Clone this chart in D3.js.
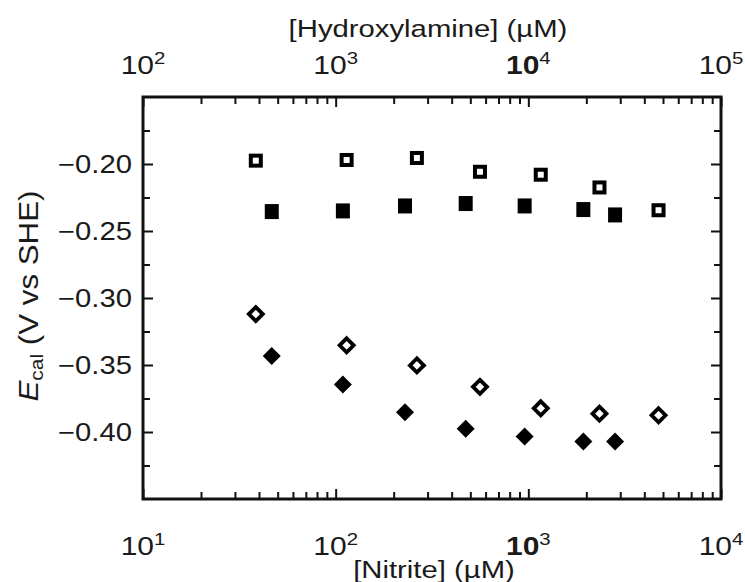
<!DOCTYPE html>
<html>
<head>
<meta charset="utf-8">
<style>
  body { margin: 0; background: #fff; }
  text { font-family: "Liberation Sans", Arial, sans-serif; fill: #1a1a1a; }
</style>
</head>
<body>
<svg id="chart" width="745" height="582"></svg>
<script src="https://cdnjs.cloudflare.com/ajax/libs/d3/7.8.5/d3.min.js"></script>
<script>
// concentrations (uM): filled markers on the nitrite axis, open markers on the hydroxylamine axis
var nitriteConc = [46.6, 109, 229, 473, 957, 1930, 2820];
var hydroxylamineConc = [385, 1140, 2640, 5610, 11600, 23400, 47400];

// E_cal (V vs SHE)
var filledSquareE  = [-0.2355, -0.235, -0.2313, -0.2295, -0.2313, -0.234, -0.238];
var openSquareE    = [-0.1975, -0.197, -0.1955, -0.2058, -0.208, -0.2175, -0.2345];
var filledDiamondE = [-0.3433, -0.3645, -0.3853, -0.3975, -0.4033, -0.407, -0.407];
var openDiamondE   = [-0.312, -0.3353, -0.3503, -0.3663, -0.3823, -0.3863, -0.3875];

var yTicks = [-0.20, -0.25, -0.30, -0.35, -0.40];
var yMinor = [-0.175, -0.225, -0.275, -0.325, -0.375, -0.425];
var bottomDecades = [10, 100, 1000, 10000];
var topDecades = [100, 1000, 10000, 100000];

var svg = d3.select("#chart");
var pLeft = 143, pRight = 721, pTop = 97, pBottom = 499;

var xBot = d3.scaleLog().domain([10, 1e4]).range([pLeft, pRight]);
var xTop = d3.scaleLog().domain([100, 1e5]).range([pLeft, pRight]);
var y = d3.scaleLinear().domain([-0.45, -0.15]).range([pBottom, pTop]);

function minorsOf(decades) {
  var out = [];
  decades.slice(0, -1).forEach(function(d) {
    for (var m = 2; m <= 9; m++) out.push(d * m);
  });
  return out;
}

function drawTicks(axis, values, size, transform) {
  var g = svg.append("g").attr("transform", transform)
    .call(axis.tickValues(values).tickSize(size).tickFormat(""));
  g.select(".domain").remove();
  g.selectAll(".tick line").attr("stroke", "#111").attr("stroke-width", 2);
  g.selectAll(".tick text").remove();
}

// ticks point inward on all four sides
drawTicks(d3.axisBottom(xBot), bottomDecades, -10, "translate(0," + pBottom + ")");
drawTicks(d3.axisBottom(xBot), minorsOf(bottomDecades), -7, "translate(0," + pBottom + ")");
drawTicks(d3.axisTop(xTop), topDecades, -10, "translate(0," + pTop + ")");
drawTicks(d3.axisTop(xTop), minorsOf(topDecades), -7, "translate(0," + pTop + ")");
drawTicks(d3.axisLeft(y), yTicks, -10, "translate(" + pLeft + ",0)");
drawTicks(d3.axisLeft(y), yMinor, -7, "translate(" + pLeft + ",0)");
drawTicks(d3.axisRight(y), yTicks, -10, "translate(" + pRight + ",0)");
drawTicks(d3.axisRight(y), yMinor, -7, "translate(" + pRight + ",0)");

// frame
svg.append("rect")
  .attr("x", pLeft).attr("y", pTop)
  .attr("width", pRight - pLeft).attr("height", pBottom - pTop)
  .attr("fill", "none").attr("stroke", "#111").attr("stroke-width", 3);

// y tick labels
svg.selectAll(".ylab").data(yTicks).enter().append("text")
  .attr("class", "ylab")
  .attr("text-anchor", "end")
  .attr("font-size", 25)
  .attr("transform", function(d) { return "translate(132," + (y(d) + 9) + ") scale(1.17,1)"; })
  .text(function(d) { return "\u2212" + Math.abs(d).toFixed(2); });

// power-of-ten labels
function powerLabels(scale, values, baseline, boldValue) {
  var t = svg.selectAll(null).data(values).enter().append("text")
    .attr("text-anchor", "middle")
    .attr("font-size", 25)
    .attr("transform", function(d) { return "translate(" + scale(d) + "," + baseline + ") scale(1.2,1)"; });
  t.append("tspan").text("10")
    .attr("font-weight", function(d) { return d === boldValue ? "bold" : "normal"; });
  t.append("tspan").attr("font-size", 17).attr("dy", -10)
    .text(function(d) { return Math.round(Math.log10(d)); });
}
powerLabels(xTop, topDecades, 74, 10000);
powerLabels(xBot, bottomDecades, 555, 1000);

// axis titles
svg.append("text").attr("text-anchor", "middle").attr("font-size", 24)
  .attr("transform", "translate(428,37) scale(1.22,1)")
  .text("[Hydroxylamine] (\u00b5M)");
svg.append("text").attr("text-anchor", "middle").attr("font-size", 24)
  .attr("transform", "translate(434,578) scale(1.22,1)")
  .text("[Nitrite] (\u00b5M)");

var yt = svg.append("text").attr("text-anchor", "middle").attr("font-size", 27)
  .attr("transform", "translate(38,296) rotate(-90) scale(1.16,1)");
yt.append("tspan").attr("font-style", "italic").text("E");
yt.append("tspan").attr("font-size", 18).attr("dy", 5).text("cal");
yt.append("tspan").attr("dy", -5).text(" (V vs SHE)");

// markers
function series(conc, scaleX, vals) {
  return conc.map(function(c, i) { return { x: scaleX(c), y: y(vals[i]) }; });
}

var diamond = function(r) { return "M0," + (-r) + "L" + r + ",0L0," + r + "L" + (-r) + ",0Z"; };

svg.selectAll(".fsq").data(series(nitriteConc, xBot, filledSquareE)).enter().append("rect")
  .attr("x", function(d) { return d.x - 7; }).attr("y", function(d) { return d.y - 7.5; })
  .attr("width", 14).attr("height", 15).attr("fill", "#000");

svg.selectAll(".osq").data(series(hydroxylamineConc, xTop, openSquareE)).enter().append("rect")
  .attr("x", function(d) { return d.x - 5; }).attr("y", function(d) { return d.y - 5; })
  .attr("width", 10).attr("height", 10)
  .attr("fill", "#fff").attr("stroke", "#000").attr("stroke-width", 4);

svg.selectAll(".fdi").data(series(nitriteConc, xBot, filledDiamondE)).enter().append("path")
  .attr("transform", function(d) { return "translate(" + d.x + "," + d.y + ")"; })
  .attr("d", diamond(9)).attr("fill", "#000");

svg.selectAll(".odi").data(series(hydroxylamineConc, xTop, openDiamondE)).enter().append("path")
  .attr("transform", function(d) { return "translate(" + d.x + "," + d.y + ")"; })
  .attr("d", diamond(7))
  .attr("fill", "#fff").attr("stroke", "#000").attr("stroke-width", 3.8);
</script>
</body>
</html>
